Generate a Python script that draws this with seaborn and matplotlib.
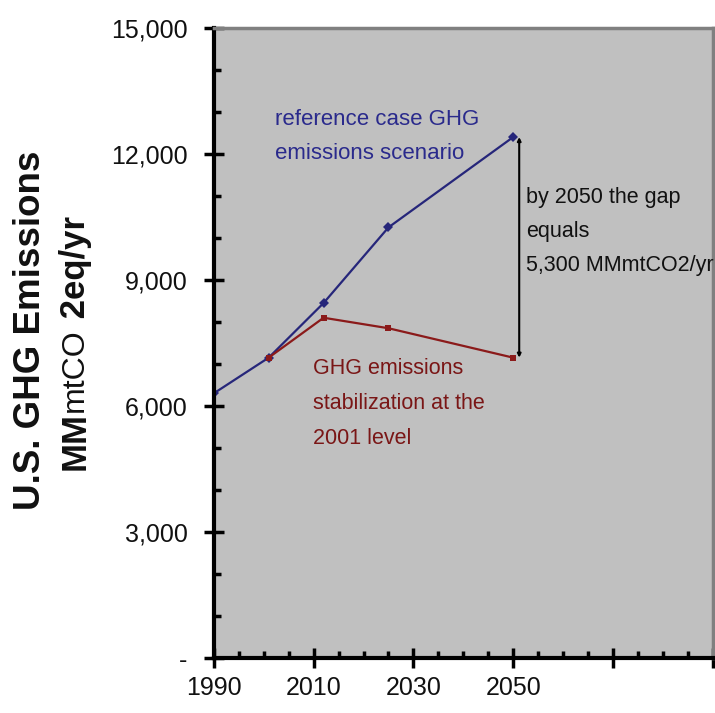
import matplotlib
matplotlib.use("Agg")
import matplotlib.pyplot as plt
import matplotlib.ticker as mticker
import seaborn as sns
import pandas as pd

# data
years_ref = [1990, 2001, 2012, 2025, 2050]
ref_case = [6300, 7150, 8450, 10250, 12400]
years_stab = [2001, 2012, 2025, 2050]
stabilization = [7150, 8100, 7850, 7150]
x_labels = ['1990', '2010', '2030', '2050', '', '']
y_ticks = [0, 3000, 6000, 9000, 12000, 15000]

df = pd.concat([
    pd.DataFrame({'year': years_ref, 'value': ref_case, 'case': 'ref'}),
    pd.DataFrame({'year': years_stab, 'value': stabilization, 'case': 'stab'}),
])

sns.set_style('white')
plt.rcParams['font.family'] = ['Liberation Sans', 'DejaVu Sans']

fig = plt.figure(figsize=(7.15, 7.13), dpi=100)
ax = fig.add_axes([0.299, 0.077, 0.698, 0.884])
ax.set_facecolor('#c0c0c0')

blue = '#26267a'
red = '#8b1a1a'
sns.lineplot(data=df[df.case == 'ref'], x='year', y='value', color=blue,
             marker='D', markersize=5, markeredgewidth=0, linewidth=1.6, ax=ax)
sns.lineplot(data=df[df.case == 'stab'], x='year', y='value', color=red,
             marker='s', markersize=5, markeredgewidth=0, linewidth=1.6, ax=ax)

ax.set_xlim(1990, 2090)
ax.set_ylim(0, 15000)
ax.set_xticks(range(1990, 2091, 20))
ax.set_xticklabels(x_labels)
ax.xaxis.set_minor_locator(mticker.MultipleLocator(5))
ax.set_yticks(y_ticks)
ax.set_yticklabels(['-' if v == 0 else f'{v:,}' for v in y_ticks])
ax.yaxis.set_minor_locator(mticker.MultipleLocator(1000))
ax.tick_params(which='major', direction='inout', length=14, width=2.5,
               labelsize=18, color='black', labelcolor='#111111')
ax.tick_params(axis='y', which='major', pad=12)
ax.tick_params(axis='x', which='major', pad=6)
ax.tick_params(which='minor', direction='in', length=5, width=2.5, color='black')
ax.tick_params(axis='x', which='both', bottom=True, top=False)
ax.tick_params(axis='y', which='both', left=True, right=False)
ax.set_xlabel('')
ax.set_ylabel('')

for side in ['left', 'bottom']:
    ax.spines[side].set_color('black')
    ax.spines[side].set_linewidth(3)
for side in ['top', 'right']:
    ax.spines[side].set_color('#808080')
    ax.spines[side].set_linewidth(2.5)

# gap arrow between the two 2050 values
ax.annotate('', xy=(2051.2, ref_case[-1]), xytext=(2051.2, stabilization[-1]),
            arrowprops=dict(arrowstyle='<|-|>', color='black', lw=1.5,
                            mutation_scale=5, shrinkA=0, shrinkB=0))

ax.text(2002.2, 13060, 'reference case GHG\nemissions scenario', color='#2a2a8c',
        fontsize=16, va='top', ha='left', linespacing=1.8)
ax.text(2052.6, 11200, 'by 2050 the gap\nequals\n5,300 MMmtCO2/yr', color='#111111',
        fontsize=15.5, va='top', ha='left', linespacing=1.8)
ax.text(2009.8, 7150, 'GHG emissions\nstabilization at the\n2001 level', color='#7a1616',
        fontsize=15.5, va='top', ha='left', linespacing=1.9)

fig.text(0.042, 0.537, 'U.S. GHG Emissions', rotation=90, fontsize=26.5,
         fontweight='bold', color='#111111', ha='center', va='center')

# second label line: bold "MM", lighter "mtCO", bold "2eq/yr"
t1 = fig.text(0.105, 0.341, 'MM', rotation=90, fontsize=25, fontweight='bold',
              color='#111111', ha='center', va='bottom')
t2 = fig.add_artist(plt.Annotation('mtCO', xy=(0.5, 1), xycoords=t1, rotation=90,
                                   fontsize=23, color='#111111', ha='center',
                                   va='bottom'))
fig.add_artist(plt.Annotation(' 2eq/yr', xy=(0.5, 1), xycoords=t2, rotation=90,
                              fontsize=25, fontweight='bold', color='#111111',
                              ha='center', va='bottom'))

fig.savefig('out.png', dpi=100)
